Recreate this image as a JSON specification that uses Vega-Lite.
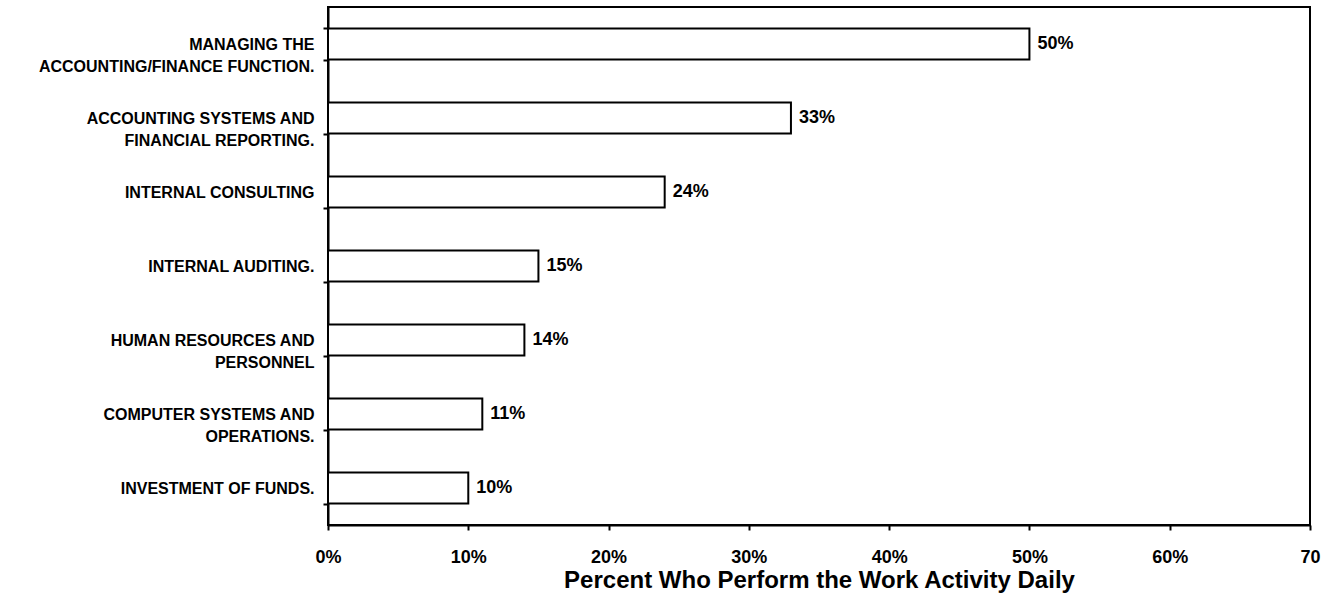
{
  "$schema": "https://vega.github.io/schema/vega-lite/v6.json",
  "width": 982,
  "height": 518,
  "autosize": {"type": "none"},
  "padding": {"left": 328, "top": 7, "right": 23, "bottom": 72},
  "background": "white",
  "config": {
    "view": {"stroke": "black", "strokeWidth": 2},
    "font": "Liberation Sans"
  },
  "data": {
    "values": [
      {"activity": "MANAGING THE|ACCOUNTING/FINANCE FUNCTION.", "pct": 0.50},
      {"activity": "ACCOUNTING SYSTEMS AND|FINANCIAL REPORTING.", "pct": 0.33},
      {"activity": "INTERNAL CONSULTING", "pct": 0.24},
      {"activity": "INTERNAL AUDITING.", "pct": 0.15},
      {"activity": "HUMAN RESOURCES AND|PERSONNEL", "pct": 0.14},
      {"activity": "COMPUTER SYSTEMS AND|OPERATIONS.", "pct": 0.11},
      {"activity": "INVESTMENT OF FUNDS.", "pct": 0.10}
    ]
  },
  "encoding": {
    "y": {
      "field": "activity",
      "type": "nominal",
      "sort": null,
      "scale": {"paddingInner": 0.58, "paddingOuter": 0.29},
      "axis": {
        "title": null,
        "labelExpr": "split(datum.label, '|')",
        "labelFontSize": 16,
        "labelFontWeight": "bold",
        "labelLineHeight": 22,
        "labelColor": "black",
        "labelPadding": 9,
        "labelLimit": 400,
        "tickBand": "extent",
        "tickSize": 5,
        "tickWidth": 2,
        "tickColor": "black",
        "domainColor": "black",
        "domainWidth": 2
      }
    },
    "x": {
      "field": "pct",
      "type": "quantitative",
      "scale": {"domain": [0, 0.7], "nice": false},
      "axis": {
        "values": [0, 0.1, 0.2, 0.3, 0.4, 0.5, 0.6, 0.7],
        "format": ".0%",
        "labelExpr": "datum.value >= 0.69 ? '70' : datum.label",
        "grid": false,
        "labelFontSize": 18,
        "labelFontWeight": "bold",
        "labelColor": "black",
        "labelPadding": 18,
        "labelFlush": false,
        "tickSize": 5,
        "tickWidth": 2,
        "tickColor": "black",
        "domainColor": "black",
        "domainWidth": 2,
        "title": "Percent Who Perform the Work Activity Daily",
        "titleFontSize": 24,
        "titleFontWeight": "bold",
        "titleColor": "black",
        "titlePadding": 2
      }
    }
  },
  "layer": [
    {"mark": {"type": "bar", "fill": "white", "stroke": "black", "strokeWidth": 2}},
    {
      "mark": {"type": "text", "align": "left", "baseline": "middle", "dx": 8, "fontWeight": "bold", "fontSize": 18, "color": "black"},
      "encoding": {"text": {"field": "pct", "type": "quantitative", "format": ".0%"}}
    }
  ]
}
